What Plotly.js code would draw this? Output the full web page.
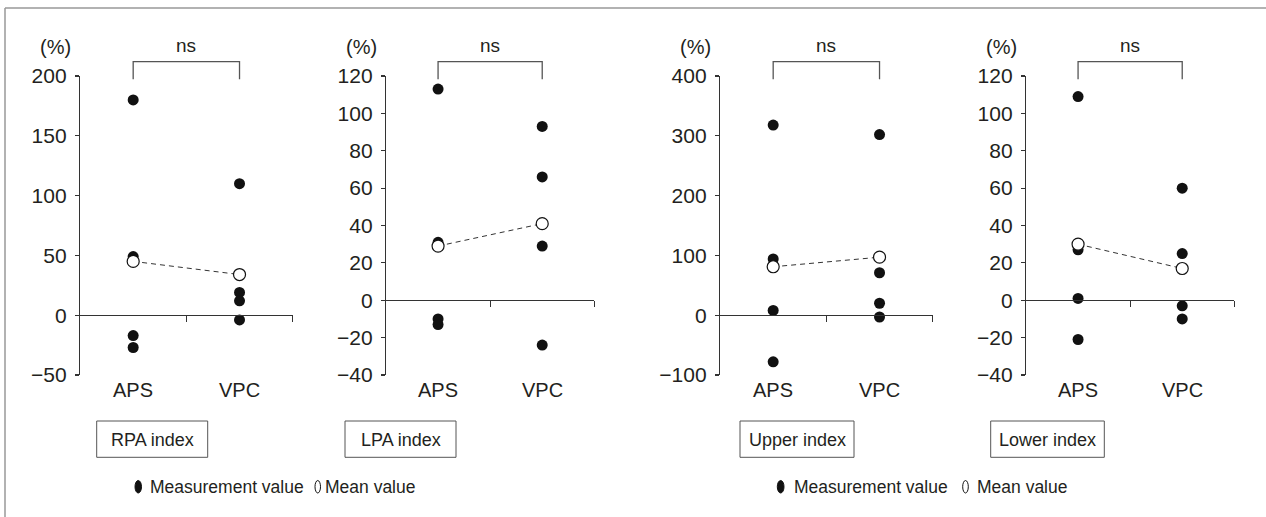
<!DOCTYPE html>
<html>
<head>
<meta charset="utf-8">
<script src="https://cdn.plot.ly/plotly-3.0.1.min.js"></script>
<style>html,body{margin:0;padding:0;background:#fff}#chart{width:1266px;height:517px}</style>
</head>
<body>
<div id="chart"></div>
<script>
// ---------------- data ----------------
const categories = ['APS', 'VPC'];
const panelTitles = ['RPA index', 'LPA index', 'Upper index', 'Lower index'];
const sigLabel = 'ns';
const unitLabel = '(%)';

const rpaAPS = [180, 49, -17, -27];
const rpaVPC = [110, 19, 12, -4];
const rpaMean = [45, 34];

const lpaAPS = [113, 31, -10, -13];
const lpaVPC = [93, 66, 29, -24];
const lpaMean = [29, 41];

const upperAPS = [318, 94, 8, -78];
const upperVPC = [302, 71, 20, -3];
const upperMean = [81, 97];

const lowerAPS = [109, 27, 1, -21];
const lowerVPC = [60, 25, -3, -10];
const lowerMean = [30, 17];

const yRanges = [[-50, 200], [-40, 120], [-100, 400], [-40, 120]];
const yDticks = [50, 20, 100, 20];

const legendLabels = ['Measurement value', 'Mean value'];

// ---------------- layout helpers ----------------
const W = 1266, H = 517;
const px = x => x / W;
const py = y => 1 - y / H;
const FONT = 'Liberation Sans, Arial, Helvetica, sans-serif';
const INK = '#231f20';

const panelData = [
  [rpaAPS, rpaVPC, rpaMean],
  [lpaAPS, lpaVPC, lpaMean],
  [upperAPS, upperVPC, upperMean],
  [lowerAPS, lowerVPC, lowerMean]
];
const xDomainsPx = [[80, 292.7], [386, 594.3], [720, 932.7], [1026, 1234.3]];
const yDomainPx = [76, 375];
const boxesPx = [[96.7, 207.7], [345, 456], [740, 854], [990.7, 1104.3]];
const catPos = c => categories.indexOf(c) + 0.5;

const traces = [];
const layout = {
  width: W, height: H,
  margin: {l: 0, r: 0, t: 0, b: 0},
  paper_bgcolor: '#fff', plot_bgcolor: 'rgba(0,0,0,0)',
  showlegend: false,
  font: {family: FONT, color: INK, size: 18},
  shapes: [], annotations: []
};

panelData.forEach((pd, i) => {
  const k = i + 1;
  const xa = 'x' + (k === 1 ? '' : k), ya = 'y' + (k === 1 ? '' : k);
  const [aps, vpc, mean] = pd;
  const yr = yRanges[i];
  const yDom = [py(yDomainPx[1]), py(yDomainPx[0])];
  const zeroPos = yDom[0] + (0 - yr[0]) / (yr[1] - yr[0]) * (yDom[1] - yDom[0]);

  layout['xaxis' + (k === 1 ? '' : k)] = {
    domain: [px(xDomainsPx[i][0]), px(xDomainsPx[i][1])],
    range: [0, 2], anchor: 'free', position: zeroPos,
    showline: true, linecolor: '#333', linewidth: 1.2,
    ticks: 'outside', tickvals: [1, 2], ticklen: 6, tickcolor: '#333', tickwidth: 1.2,
    showticklabels: false, showgrid: false, zeroline: false, fixedrange: true
  };
  layout['yaxis' + (k === 1 ? '' : k)] = {
    domain: yDom, range: yr, dtick: yDticks[i], tick0: 0, anchor: xa,
    showline: true, linecolor: '#333', linewidth: 1.2,
    ticks: 'outside', ticklen: 4, tickcolor: '#333', tickwidth: 1.2,
    ticklabelstandoff: 4,
    tickfont: {size: 21, color: INK, family: FONT},
    showgrid: false, zeroline: false, fixedrange: true
  };

  const xs = [], ys = [];
  aps.forEach(v => { xs.push(catPos('APS')); ys.push(v); });
  vpc.forEach(v => { xs.push(catPos('VPC')); ys.push(v); });
  traces.push({
    type: 'scatter', mode: 'markers', x: xs, y: ys, xaxis: xa, yaxis: ya,
    marker: {size: 11, color: '#111', line: {width: 0}}, hoverinfo: 'y', cliponaxis: false
  });
  traces.push({
    type: 'scatter', mode: 'lines+markers', x: categories.map(catPos), y: mean, xaxis: xa, yaxis: ya,
    line: {color: '#333', width: 1, dash: '5px,4px'},
    marker: {size: 12, color: '#fff', line: {width: 1.2, color: '#111'}}, hoverinfo: 'y', cliponaxis: false
  });

  // significance bracket
  const xA = catPos('APS'), xV = catPos('VPC');
  layout.shapes.push({
    type: 'path', xref: xa, yref: 'paper',
    path: `M ${xA} ${py(79.3)} L ${xA} ${py(61.7)} L ${xV} ${py(61.7)} L ${xV} ${py(79.3)}`,
    line: {color: '#555', width: 1.3}
  });
  layout.annotations.push({
    xref: xa, yref: 'paper', x: (xA + xV) / 2, y: py(46), text: sigLabel,
    showarrow: false, xanchor: 'center', yanchor: 'middle', font: {size: 19, color: INK}
  });
  layout.annotations.push({
    xref: 'paper', yref: 'paper', x: px(xDomainsPx[i][0]), xshift: -7, y: py(47), text: unitLabel,
    showarrow: false, xanchor: 'right', yanchor: 'middle', font: {size: 20, color: INK}
  });
  categories.forEach(c => {
    layout.annotations.push({
      xref: xa, yref: 'paper', x: catPos(c), y: py(390), text: c,
      showarrow: false, xanchor: 'center', yanchor: 'middle', font: {size: 20, color: INK}
    });
  });

  // index box
  const b = boxesPx[i];
  layout.shapes.push({
    type: 'rect', xref: 'paper', yref: 'paper',
    x0: px(b[0]), x1: px(b[1]), y0: py(457.3), y1: py(421),
    line: {color: '#555', width: 1}, fillcolor: 'rgba(0,0,0,0)'
  });
  layout.annotations.push({
    xref: 'paper', yref: 'paper', x: px((b[0] + b[1]) / 2), y: py(439.5), text: panelTitles[i],
    showarrow: false, xanchor: 'center', yanchor: 'middle', font: {size: 18, color: INK}
  });
});

// legends (two copies)
const legendPx = [
  {f: [135, 141.5], t1: 148, h: [315, 320.5], t2: 322.7},
  {f: [777.3, 784], t1: 791.7, h: [962.7, 968.3], t2: 975}
];
legendPx.forEach(L => {
  layout.shapes.push({type: 'circle', xref: 'paper', yref: 'paper',
    x0: px(L.f[0]), x1: px(L.f[1]), y0: py(493), y1: py(480.5),
    fillcolor: '#111', line: {color: '#111', width: 1}});
  layout.shapes.push({type: 'circle', xref: 'paper', yref: 'paper',
    x0: px(L.h[0]), x1: px(L.h[1]), y0: py(493), y1: py(480.5),
    fillcolor: '#fff', line: {color: '#111', width: 1}});
  layout.annotations.push({xref: 'paper', yref: 'paper', x: px(L.t1), y: py(487), text: legendLabels[0],
    showarrow: false, xanchor: 'left', yanchor: 'middle', font: {size: 17.5, color: INK}});
  layout.annotations.push({xref: 'paper', yref: 'paper', x: px(L.t2), y: py(487), text: legendLabels[1],
    showarrow: false, xanchor: 'left', yanchor: 'middle', font: {size: 17.5, color: INK}});
});

// outer frame (top and left edges)
layout.shapes.push({type: 'line', xref: 'paper', yref: 'paper', x0: px(5), x1: 1, y0: py(8), y1: py(8),
  line: {color: '#999', width: 1.5}});
layout.shapes.push({type: 'line', xref: 'paper', yref: 'paper', x0: px(5), x1: px(5), y0: py(8), y1: 0,
  line: {color: '#999', width: 1.5}});

Plotly.newPlot('chart', traces, layout, {displayModeBar: false, staticPlot: true});
</script>
</body>
</html>
